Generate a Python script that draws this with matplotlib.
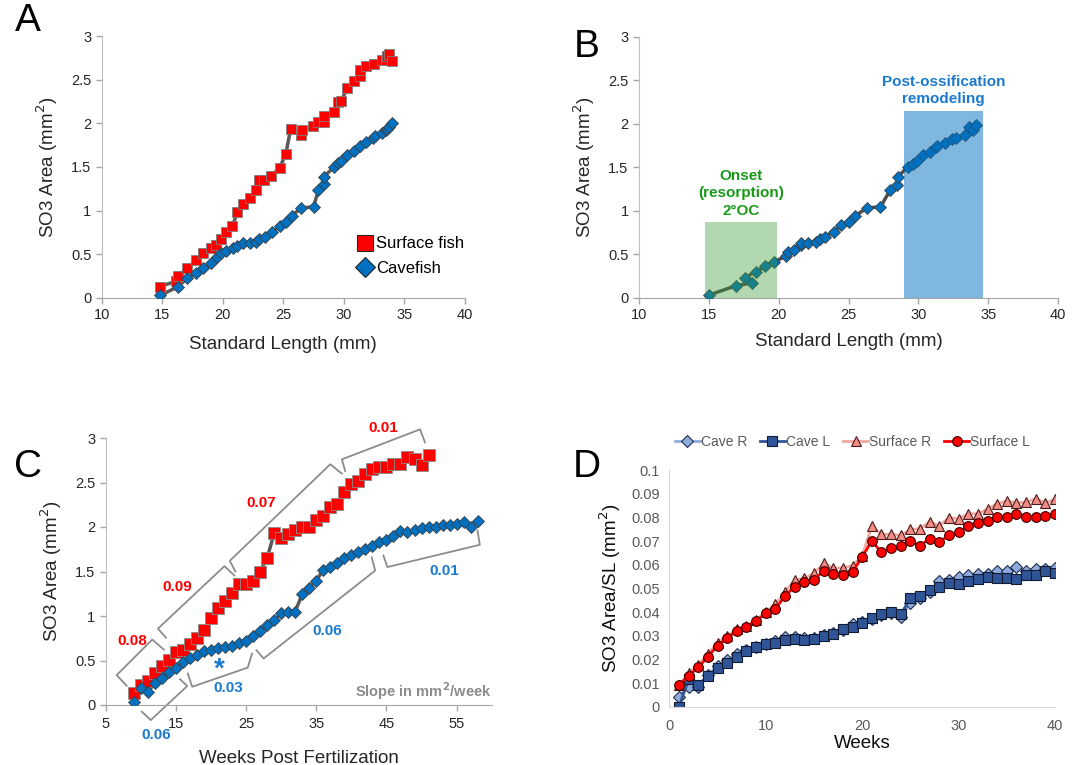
import matplotlib
matplotlib.use("Agg")
import matplotlib.pyplot as plt
import numpy as np

plt.rcParams['font.family'] = ['Liberation Sans', 'DejaVu Sans']

# ---------------- Data ----------------
# Panel A
a_surf_sl = [14.8, 16.1, 16.3, 17.05, 17.8, 18.4, 19.0, 19.45, 19.85, 20.3, 20.8, 21.2, 21.65, 22.25,
             22.75, 22.95, 23.4, 24.0, 24.7, 25.2, 25.6, 26.45, 26.55, 27.45, 27.9, 28.35, 28.35, 29.2,
             29.55, 29.8, 30.25, 30.8, 31.3, 31.3, 31.85, 32.5, 33.15, 33.45, 33.55, 33.7, 33.95]
a_surf_area = [0.13, 0.19, 0.25, 0.34, 0.435, 0.51, 0.57, 0.61, 0.67, 0.75, 0.83, 0.98, 1.08, 1.15,
               1.24, 1.35, 1.35, 1.40, 1.49, 1.65, 1.93, 1.87, 1.92, 1.97, 2.01, 2.01, 2.08, 2.13,
               2.24, 2.26, 2.40, 2.48, 2.54, 2.61, 2.66, 2.68, 2.72, 2.72, 2.77, 2.79, 2.71]
a_cave_sl = [14.85, 16.3, 17.05, 17.8, 18.4, 19.0, 19.5, 19.85, 20.3, 20.85, 21.2, 21.7, 22.25, 22.75,
             22.95, 23.45, 24.05, 24.75, 25.2, 25.7, 26.45, 27.5, 27.9, 28.35, 28.35, 29.2, 29.55,
             29.8, 30.25, 30.8, 31.3, 31.85, 32.4, 32.6, 33.15, 33.45, 33.55, 33.7, 33.95]
a_cave_area = [0.03, 0.13, 0.225, 0.29, 0.34, 0.40, 0.465, 0.51, 0.54, 0.57, 0.595, 0.625, 0.635, 0.645,
               0.67, 0.70, 0.76, 0.82, 0.87, 0.94, 1.03, 1.045, 1.24, 1.30, 1.39, 1.50, 1.55,
               1.57, 1.64, 1.68, 1.74, 1.79, 1.83, 1.85, 1.885, 1.92, 1.94, 1.96, 2.0]

# Panel B
b_cave_sl = [15.0, 16.98, 18.1, 17.57, 18.36, 19.05, 19.64, 20.55, 20.67, 21.1, 21.6, 21.6, 22.1, 22.7,
             22.93, 23.33, 23.93, 24.48, 25.07, 25.48, 26.3, 27.29, 28.0, 28.45, 28.52, 29.24, 29.6,
             29.9, 30.3, 30.8, 31.3, 31.33, 31.9, 32.4, 32.7, 33.33, 33.64, 33.88, 34.1]
b_cave_area = [0.03, 0.14, 0.17, 0.23, 0.30, 0.36, 0.41, 0.48, 0.53, 0.55, 0.60, 0.63, 0.63, 0.64,
               0.67, 0.70, 0.76, 0.83, 0.87, 0.94, 1.03, 1.045, 1.24, 1.30, 1.39, 1.50, 1.54,
               1.57, 1.64, 1.68, 1.73, 1.745, 1.78, 1.82, 1.84, 1.875, 1.96, 1.93, 1.99]
b_regions = [(14.7, 19.9, 0.87), (28.95, 34.65, 2.15)]   # (start SL, end SL, height)

# Panel C
c_surf_weeks = list(range(9, 52))
c_surf_area = [0.14, 0.22, 0.27, 0.354, 0.44, 0.51, 0.59, 0.62, 0.68, 0.757, 0.84, 0.98, 1.093, 1.168,
               1.257, 1.354, 1.354, 1.39, 1.50, 1.65, 1.93, 1.876, 1.92, 1.966, 2.00, 2.00, 2.078,
               2.127, 2.228, 2.257, 2.388, 2.481, 2.52, 2.60, 2.65, 2.679, 2.679, 2.713, 2.713,
               2.79, 2.769, 2.70, 2.81]
c_cave_weeks = list(range(9, 59))
c_cave_area = [0.03, 0.187, 0.15, 0.243, 0.306, 0.366, 0.42, 0.485, 0.532, 0.567, 0.604, 0.623, 0.64,
               0.653, 0.664, 0.698, 0.72, 0.772, 0.832, 0.896, 0.95, 1.03, 1.05, 1.05, 1.246, 1.32,
               1.396, 1.52, 1.556, 1.59, 1.649, 1.687, 1.724, 1.757, 1.787, 1.836, 1.85, 1.90, 1.955,
               1.944, 1.963, 1.993, 2.004, 2.004, 2.02, 2.02, 2.037, 2.056, 2.00, 2.067]

# Panel D
d_weeks = list(range(1, 41))
d_cave_r = [0.0042, 0.0085, 0.0085, 0.0134, 0.0172, 0.0197, 0.0221, 0.0239, 0.0254, 0.0265, 0.0279,
            0.0293, 0.0293, 0.0289, 0.0289, 0.0303, 0.0310, 0.0324, 0.0349, 0.0359, 0.0369, 0.0387,
            0.0394, 0.0380, 0.0437, 0.0458, 0.0486, 0.0531, 0.0535, 0.0546, 0.0556, 0.0559, 0.0561,
            0.0575, 0.0573, 0.0592, 0.0575, 0.0582, 0.0582, 0.0585]
d_cave_l = [0.0, 0.0115, 0.0092, 0.0130, 0.0162, 0.0186, 0.0208, 0.0235, 0.0251, 0.0263, 0.0268,
            0.0282, 0.0287, 0.0282, 0.0287, 0.0300, 0.0306, 0.0327, 0.0335, 0.0355, 0.0373, 0.0392,
            0.0401, 0.0390, 0.0458, 0.0469, 0.0493, 0.0504, 0.0521, 0.0517, 0.0532, 0.0539, 0.0546,
            0.0545, 0.0545, 0.0539, 0.0556, 0.0556, 0.0575, 0.0566]
d_surf_r = [0.0092, 0.0141, 0.0176, 0.0223, 0.0270, 0.0299, 0.0327, 0.0341, 0.0366, 0.0401, 0.0432,
            0.0486, 0.0535, 0.0542, 0.0563, 0.0606, 0.0585, 0.0587, 0.0596, 0.0637, 0.0763, 0.0728,
            0.0728, 0.0724, 0.0749, 0.0752, 0.0782, 0.0763, 0.0799, 0.0794, 0.0815, 0.0815, 0.0835,
            0.0858, 0.0869, 0.0862, 0.0863, 0.0879, 0.0862, 0.0876]
d_surf_l = [0.0092, 0.0130, 0.0166, 0.0211, 0.0258, 0.0290, 0.0321, 0.0338, 0.0362, 0.0394, 0.0413,
            0.0468, 0.0507, 0.0528, 0.0535, 0.0575, 0.0559, 0.0555, 0.0570, 0.0632, 0.0701, 0.0652,
            0.0672, 0.0680, 0.0699, 0.0680, 0.0710, 0.0696, 0.0724, 0.0737, 0.0762, 0.0776, 0.0786,
            0.0800, 0.0803, 0.0815, 0.0800, 0.0801, 0.0804, 0.0814]
d_labels = ["Cave R", "Cave L", "Surface R", "Surface L"]

# ---------------- Figure ----------------
W, H = 1077, 765
fig = plt.figure(figsize=(W / 100, H / 100), dpi=100)

def rect(x0, x1, ytop, ybot):
    return [x0 / W, 1 - ybot / H, (x1 - x0) / W, (ybot - ytop) / H]

RED = '#FF0000'
BLUE = '#0070C0'
LINE = '#595959'
TXT = '#262626'
SP = '#BFBFBF'

def style_excel(ax):
    for s in ['top', 'right']:
        ax.spines[s].set_visible(False)
    ax.spines['left'].set_color(SP)
    ax.spines['bottom'].set_color('#A6A6A6')
    ax.tick_params(colors='#A6A6A6', labelcolor=TXT, labelsize=10.5, length=4, width=1)

area_ticks = [0, 0.5, 1, 1.5, 2, 2.5, 3]
area_labels = ["0", "0.5", "1", "1.5", "2", "2.5", "3"]

# ---- Panel A ----
axA = fig.add_axes(rect(101.7, 465, 36, 298))
axA.plot(a_surf_sl, a_surf_area, '-', color=LINE, lw=2.5, zorder=2)
axA.plot(a_cave_sl, a_cave_area, '-', color=LINE, lw=2.5, zorder=2)
axA.plot(a_surf_sl, a_surf_area, 's', ms=6.5, mfc=RED, mec='#7F7F7F', mew=0.6, ls='none', zorder=3)
axA.plot(a_cave_sl, a_cave_area, 'D', ms=6.5, mfc=BLUE, mec='#404040', mew=0.6, ls='none', zorder=3)
axA.set_xlim(10, 40)
axA.set_ylim(0, 3)
axA.set_xticks(range(10, 41, 5))
axA.set_yticks(area_ticks)
axA.set_yticklabels(area_labels)
style_excel(axA)
axA.set_xlabel("Standard Length (mm)", fontsize=13.5, color=TXT, labelpad=10)
axA.set_ylabel("SO3 Area (mm$^2$)", fontsize=13.5, color=TXT, labelpad=8)
hA1, = axA.plot([], [], 's', ms=11, mfc=RED, mec='#262626', mew=0.8, ls='none')
hA2, = axA.plot([], [], 'D', ms=10, mfc=BLUE, mec='#262626', mew=0.8, ls='none')
axA.legend([hA1, hA2], ["Surface fish", "Cavefish"], loc='center left',
           bbox_to_anchor=(0.655, 0.16), frameon=False, fontsize=12, handletextpad=0.1,
           labelspacing=0.55, handlelength=1.2)

# ---- Panel B ----
axB = fig.add_axes(rect(639, 1058, 36.7, 297.7))
axB.plot(b_cave_sl, b_cave_area, '-', color='#4D4D4D', lw=2.5, zorder=2)
axB.plot(b_cave_sl, b_cave_area, 'D', ms=6.5, mfc=BLUE, mec='#404040', mew=0.6, ls='none', zorder=3)
region_colors = [('#3C9F3C', 0.40), ('#0070C0', 0.50)]
for (x0, x1, h), (c, a) in zip(b_regions, region_colors):
    axB.bar((x0 + x1) / 2, h, width=x1 - x0, color=c, alpha=a, zorder=4, lw=0)
axB.text((b_regions[0][0] + b_regions[0][1]) / 2, b_regions[0][2] + 0.05, "Onset\n(resorption)\n2°OC",
         ha='center', va='bottom', color='#179A17', fontsize=11, fontweight='bold', linespacing=1.3)
axB.text((b_regions[1][0] + b_regions[1][1]) / 2, b_regions[1][2] + 0.05, "Post-ossification\nremodeling",
         ha='center', va='bottom', color='#1A7AD0', fontsize=11, fontweight='bold', linespacing=1.3)
axB.set_xlim(10, 40)
axB.set_ylim(0, 3)
axB.set_xticks(range(10, 41, 5))
axB.set_yticks(area_ticks)
axB.set_yticklabels(area_labels)
style_excel(axB)
axB.set_xlabel("Standard Length (mm)", fontsize=13.5, color=TXT, labelpad=8)
axB.set_ylabel("SO3 Area (mm$^2$)", fontsize=13.5, color=TXT, labelpad=8)

# ---- Panel C ----
axC = fig.add_axes(rect(105.7, 491.7, 438, 705))
axC.plot(c_surf_weeks, c_surf_area, '-', color=LINE, lw=2.5, zorder=2)
axC.plot(c_cave_weeks, c_cave_area, '-', color=LINE, lw=2.5, zorder=2)
axC.plot(c_surf_weeks, c_surf_area, 's', ms=8, mfc=RED, mec='#8C8C8C', mew=0.6, ls='none', zorder=3)
axC.plot(c_cave_weeks, c_cave_area, 'D', ms=6.5, mfc=BLUE, mec='#404040', mew=0.6, ls='none', zorder=3)
axC.set_xlim(5, 60)
axC.set_ylim(0, 3)
axC.set_xticks(range(5, 60, 10))
axC.set_yticks(area_ticks)
axC.set_yticklabels(area_labels)
style_excel(axC)
axC.tick_params(axis='x', pad=5)
axC.set_xlabel("Weeks Post Fertilization", fontsize=13.5, color=TXT, labelpad=13)
axC.set_ylabel("SO3 Area (mm$^2$)", fontsize=13.5, color=TXT, labelpad=8)

BR = '#8C8C8C'
brackets = [
    [(7.99, 0.216), (6.56, 0.336), (11.63, 0.735), (13.29, 0.623)],
    [(13.58, 0.757), (12.44, 0.858), (21.92, 1.56), (23.34, 1.455)],
    [(23.48, 1.50), (22.68, 1.62), (37.0, 2.705), (38.65, 2.60)],
    [(39.12, 2.63), (38.65, 2.76), (49.79, 3.097), (50.5, 2.95)],
    [(10.14, -0.075), (11.43, -0.169), (16.61, 0.213), (15.6, 0.29)],
    [(16.7, 0.354), (17.32, 0.205), (25.24, 0.42), (25.85, 0.578)],
    [(26.47, 0.616), (27.5, 0.522), (43.39, 1.51), (42.9, 1.66)],
    [(44.57, 1.68), (45.14, 1.55), (58.3, 1.80), (57.99, 1.96)],
]
for br in brackets:
    xs, ys = zip(*br)
    axC.plot(xs, ys, '-', color=BR, lw=1.3, clip_on=False, zorder=1)

c_notes = [
    (8.76, 0.72, "0.08", RED), (15.15, 1.33, "0.09", RED), (27.2, 2.27, "0.07", RED),
    (44.6, 3.11, "0.01", RED), (22.5, 0.19, "0.03", '#1A7AD0'), (12.14, -0.34, "0.06", '#1A7AD0'),
    (36.6, 0.83, "0.06", '#1A7AD0'), (53.2, 1.51, "0.01", '#1A7AD0'),
]
for x, y, t, c in c_notes:
    axC.text(x, y, t, ha='center', va='center', color=c, fontsize=11, fontweight='bold', clip_on=False)
axC.text(21.2, 0.40, "*", ha='center', va='center', color='#1A7AD0', fontsize=20, fontweight='bold')
axC.text(60, 0.15, "Slope in mm$^\\mathbf{2}$/week", ha='right', va='center', color='#8C8C8C',
         fontsize=10.5, fontweight='bold')

# ---- Panel D ----
axD = fig.add_axes(rect(669.3, 1055, 470, 706.7))
d_series = [d_cave_r, d_cave_l, d_surf_r, d_surf_l]
d_styles = [
    dict(color='#8FAADC', marker='D', ms=6, mfc='#8FAADC', mec='#1F2F4F'),
    dict(color='#2F5597', marker='s', ms=7, mfc='#2F5597', mec='#111A33'),
    dict(color='#F4A8A2', marker='^', ms=7, mfc='#F08C84', mec='#4A1A1A'),
    dict(color='#FF0000', marker='o', ms=7, mfc='#FF0000', mec='#3A0000'),
]
handles = []
for ys, st, lab in zip(d_series, d_styles, d_labels):
    h, = axD.plot(d_weeks, ys, lw=2, mew=0.8, label=lab, **st)
    handles.append(h)
axD.set_xlim(0, 40)
axD.set_ylim(0, 0.1)
axD.set_xticks(range(0, 41, 10))
axD.set_yticks(np.arange(0, 0.1001, 0.01))
axD.set_yticklabels(["0"] + ["%.2f" % v for v in np.arange(0.01, 0.0951, 0.01)] + ["0.1"])
for s in ['top', 'right']:
    axD.spines[s].set_visible(False)
for s in ['left', 'bottom']:
    axD.spines[s].set_color('#D9D9D9')
axD.tick_params(length=0, labelcolor='#595959', labelsize=10.5, pad=7)
axD.tick_params(axis='x', pad=9)
axD.set_xlabel("Weeks", fontsize=13.5, color='#0D0D0D', labelpad=1)
axD.set_ylabel("SO3 Area/SL (mm$^2$)", fontsize=13.5, color='#0D0D0D', labelpad=6)
leg = axD.legend(handles=handles, loc='center', bbox_to_anchor=(0.475, 1.12), ncol=4, frameon=False,
                 fontsize=10, handlelength=1.8, handletextpad=0.1, columnspacing=0.9)
for t in leg.get_texts():
    t.set_color('#595959')

# ---- Panel letters ----
for x, y, s in [(28, 21, "A"), (587, 47, "B"), (28, 467, "C"), (587, 467, "D")]:
    fig.text(x / W, 1 - y / H, s, fontsize=28, ha='center', va='center', color='black')

fig.savefig("out.png", dpi=100)
